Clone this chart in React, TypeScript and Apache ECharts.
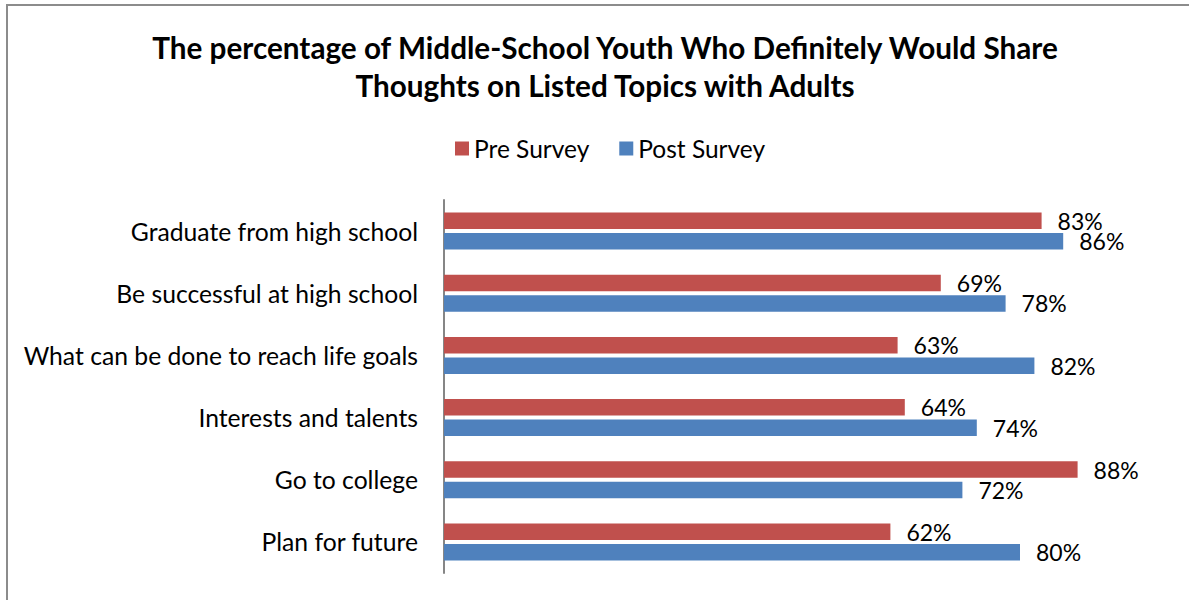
import React, { useEffect, useRef } from "react";
import * as echarts from "echarts";

const categories = [
  "Graduate from high school",
  "Be successful at high school",
  "What can be done to reach life goals",
  "Interests and talents",
  "Go to college",
  "Plan for future",
];
const preSurvey = [83, 69, 63, 64, 88, 62];
const postSurvey = [86, 78, 82, 74, 72, 80];

const FONT = "Lato, 'Open Sans', sans-serif";

export default function App() {
  const ref = useRef<HTMLDivElement>(null);
  useEffect(() => {
    if (!ref.current) return;
    const chart = echarts.init(ref.current, undefined, { renderer: "svg" });
    const labelStyle = {
      show: true,
      position: "right",
      distance: 16,
      formatter: "{c}%",
      fontFamily: FONT,
      fontSize: 23,
      color: "#000",
    };
    chart.setOption({
      animation: false,
      backgroundColor: "#ffffff",
      title: {
        text: "The percentage of Middle-School Youth Who Definitely Would Share\nThoughts on Listed Topics with Adults",
        left: 600,
        top: 23,
        textAlign: "center",
        textStyle: {
          fontFamily: FONT,
          fontWeight: "bold",
          fontSize: 29.7,
          lineHeight: 38,
          color: "#000",
        },
      },
      legend: {
        top: 131,
        left: 450,
        itemWidth: 14,
        itemHeight: 14,
        itemGap: 30,
        icon: "rect",
        textStyle: { fontFamily: FONT, fontSize: 24.5, color: "#000" },
        data: ["Pre Survey", "Post Survey"],
      },
      graphic: [
        {
          type: "rect",
          shape: { x: 7, y: 5, width: 1400, height: 800 },
          style: { fill: "none", stroke: "#8c8c8c", lineWidth: 2 },
          silent: true,
        },
      ],
      grid: { left: 444, top: 200, width: 720, height: 373 },
      xAxis: {
        type: "value",
        min: 0,
        max: 100,
        show: false,
      },
      yAxis: {
        type: "category",
        data: categories,
        inverse: true,
        axisLine: { show: true, lineStyle: { color: "#868686", width: 2 } },
        axisTick: { show: false },
        axisLabel: {
          margin: 26,
          fontFamily: FONT,
          fontSize: 24.7,
          color: "#000",
        },
      },
      series: [
        {
          name: "Pre Survey",
          type: "bar",
          data: preSurvey,
          barWidth: 16.5,
          barGap: "24%",
          itemStyle: { color: "#C0504D" },
          label: labelStyle,
        },
        {
          name: "Post Survey",
          type: "bar",
          data: postSurvey,
          barWidth: 16.5,
          barGap: "24%",
          itemStyle: { color: "#4F81BD" },
          label: labelStyle,
        },
      ],
    });
    return () => chart.dispose();
  }, []);
  return (
    <div
      ref={ref}
      style={{ position: "fixed", left: 0, top: 0, width: 1189, height: 600 }}
    />
  );
}
